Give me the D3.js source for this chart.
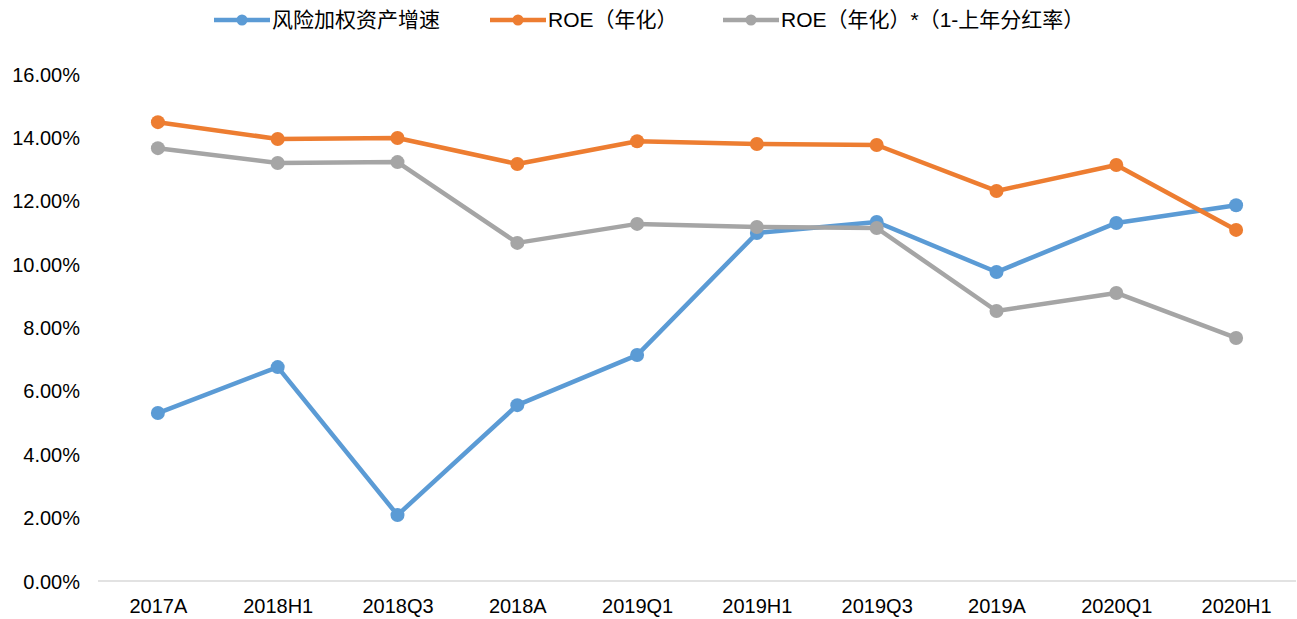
<html>
<head>
<meta charset="utf-8">
<script src="https://d3js.org/d3.v7.min.js"></script>
<style>
  body { margin: 0; background: #fff; }
  text { font-family: "Liberation Sans", Arial, "Noto Sans CJK SC", sans-serif; fill: #000; }
</style>
</head>
<body>
<div id="chart"></div>
<script>
// categories + series (values in %)
var periods = ["2017A", "2018H1", "2018Q3", "2018A", "2019Q1", "2019H1", "2019Q3", "2019A", "2020Q1", "2020H1"];
var rwaGrowth = [5.30, 6.75, 2.08, 5.55, 7.13, 10.98, 11.33, 9.75, 11.30, 11.86];
var roe = [14.48, 13.95, 13.98, 13.16, 13.88, 13.79, 13.76, 12.31, 13.13, 11.08];
var roeRetained = [13.66, 13.19, 13.22, 10.67, 11.27, 11.17, 11.14, 8.52, 9.09, 7.67];
var yTicks = [0, 2, 4, 6, 8, 10, 12, 14, 16];

var seriesNames = ["风险加权资产增速", "ROE（年化）", "ROE（年化）*（1-上年分红率）"];
var seriesColors = ["#5b9bd5", "#ed7d31", "#a5a5a5"];
var seriesData = [rwaGrowth, roe, roeRetained];

var width = 1297, height = 619;
var plot = {left: 98, right: 1296, top: 74, bottom: 581};

var svg = d3.select("#chart").append("svg")
    .attr("width", width)
    .attr("height", height);

var x = d3.scalePoint().domain(periods).range([plot.left, plot.right]).padding(0.5);
var y = d3.scaleLinear().domain([0, 16]).range([plot.bottom, plot.top]);

// y axis labels (no gridlines)
var yAxis = d3.axisLeft(y).tickValues(yTicks)
    .tickFormat(function(d) { return d.toFixed(2) + "%"; })
    .tickSize(0).tickPadding(18);
var yg = svg.append("g")
    .attr("transform", "translate(" + plot.left + ",0)")
    .call(yAxis);
yg.select(".domain").remove();
yg.selectAll("text").style("font-size", "20px").attr("dy", "0.35em");

// x axis
var xAxis = d3.axisBottom(x).tickSize(0).tickPadding(18);
var xg = svg.append("g")
    .attr("transform", "translate(0," + plot.bottom + ")")
    .call(xAxis);
xg.select(".domain").attr("stroke", "#d9d9d9").attr("stroke-width", 1.5)
    .attr("d", "M" + plot.left + ",0H" + plot.right);
xg.selectAll("text").style("font-size", "20px").attr("dy", "0.71em");

// lines
var line = d3.line()
    .x(function(d, i) { return x(periods[i]); })
    .y(function(d) { return y(d); });

seriesData.forEach(function(vals, k) {
  var g = svg.append("g");
  g.append("path")
    .datum(vals)
    .attr("fill", "none")
    .attr("stroke", seriesColors[k])
    .attr("stroke-width", 4.5)
    .attr("stroke-linejoin", "round")
    .attr("d", line);
  g.selectAll("circle")
    .data(vals)
    .enter()
    .append("circle")
    .attr("cx", function(d, i) { return x(periods[i]); })
    .attr("cy", function(d) { return y(d); })
    .attr("r", 7)
    .attr("fill", seriesColors[k]);
});

// legend
var legendX = [214, 490, 723];
var legendY = 20;
seriesNames.forEach(function(name, k) {
  var lg = svg.append("g").attr("transform", "translate(" + legendX[k] + "," + legendY + ")");
  lg.append("line")
    .attr("x1", 0).attr("x2", 56)
    .attr("stroke", seriesColors[k]).attr("stroke-width", 4.5);
  lg.append("circle").attr("cx", 28).attr("r", 5.5).attr("fill", seriesColors[k]);
  lg.append("text")
    .attr("x", 58)
    .attr("dy", "0.35em")
    .style("font-size", "21px")
    .text(name);
});
</script>
</body>
</html>
